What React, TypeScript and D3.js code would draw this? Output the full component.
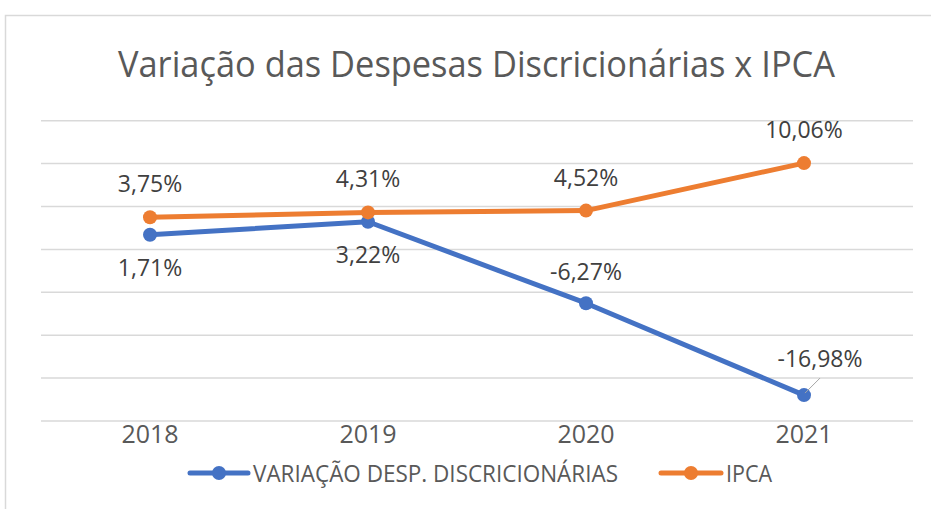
import { useMemo } from 'react';
import * as d3 from 'd3';

const years = ['2018', '2019', '2020', '2021'];
const despesas = [1.71, 3.22, -6.27, -16.98];
const ipca = [3.75, 4.31, 4.52, 10.06];
const yTicks = [-20, -15, -10, -5, 0, 5, 10, 15];

const seriesNames = ['VARIAÇÃO DESP. DISCRICIONÁRIAS', 'IPCA'];
const colors = ['#4472C4', '#ED7D31'];

const W = 931;
const H = 509;
const FONT = '"Open Sans", "Noto Sans", sans-serif';

const fmt = (v: number) => v.toFixed(2).replace('.', ',') + '%';

export default function App() {
  const x = useMemo(() => d3.scaleBand<string>().domain(years).range([41, 913]), []);
  const y = useMemo(() => d3.scaleLinear().domain([-20, 15]).range([421, 120.7]), []);
  const cx = (yr: string) => (x(yr) ?? 0) + x.bandwidth() / 2;

  const line = d3
    .line<number>()
    .x((_, i) => cx(years[i]))
    .y(d => y(d));

  const series = [despesas, ipca];

  // label placement: -1 above, +1 below (per series, per point)
  const placeBlue = [1, 1, -1, -1];
  const placeOrange = [-1, -1, -1, -1];

  return (
    <svg width={W} height={H} style={{ position: 'absolute', left: 0, top: 0, background: '#fff' }}>
      <rect x={5.5} y={15.5} width={W} height={H} fill="#fff" stroke="#d9d9d9" strokeWidth={1.5} />

      <text
        x={476.5}
        y={77}
        textAnchor="middle"
        fontFamily={FONT}
        fontSize={37}
        fill="#595959"
        textLength={717}
        lengthAdjust="spacingAndGlyphs"
      >
        Variação das Despesas Discricionárias x IPCA
      </text>

      {yTicks.map(t => (
        <line key={t} x1={41} x2={913} y1={y(t)} y2={y(t)} stroke="#d9d9d9" strokeWidth={1.5} />
      ))}

      {years.map(yr => (
        <text
          key={yr}
          x={cx(yr)}
          y={443}
          textAnchor="middle"
          fontFamily={FONT}
          fontSize={25}
          fill="#595959"
        >
          {yr}
        </text>
      ))}

      {series.map((s, si) => (
        <g key={si}>
          <path d={line(s) ?? ''} fill="none" stroke={colors[si]} strokeWidth={5} strokeLinejoin="round" />
          {s.map((v, i) => (
            <circle key={i} cx={cx(years[i])} cy={y(v)} r={7} fill={colors[si]} />
          ))}
        </g>
      ))}

      {/* leader line for the last blue label */}
      <line
        x1={cx(years[3]) + 1}
        y1={y(despesas[3]) - 2}
        x2={cx(years[3]) + 16}
        y2={y(despesas[3]) - 17}
        stroke="#a6a6a6"
        strokeWidth={1}
      />

      {despesas.map((v, i) => {
        const last = i === 3;
        return (
          <text
            key={'b' + i}
            x={cx(years[i]) + (last ? 16 : 0)}
            y={y(v) + (last ? -37 : placeBlue[i] * 32)}
            textAnchor="middle"
            dominantBaseline="central"
            fontFamily={FONT}
            fontSize={23}
            fill="#404040"
          >
            {fmt(v)}
          </text>
        );
      })}
      {ipca.map((v, i) => (
        <text
          key={'o' + i}
          x={cx(years[i])}
          y={y(v) + placeOrange[i] * 34}
          textAnchor="middle"
          dominantBaseline="central"
          fontFamily={FONT}
          fontSize={23}
          fill="#404040"
        >
          {fmt(v)}
        </text>
      ))}

      {/* legend */}
      {[
        { x0: 190, x1: 248, tx: 253, tl: 365 },
        { x0: 661, x1: 721, tx: 726, tl: 46 },
      ].map((l, i) => (
        <g key={i}>
          <line x1={l.x0} x2={l.x1} y1={473} y2={473} stroke={colors[i]} strokeWidth={5} strokeLinecap="round" />
          <circle cx={(l.x0 + l.x1) / 2} cy={473} r={7} fill={colors[i]} />
          <text
            x={l.tx}
            y={473}
            dominantBaseline="central"
            fontFamily={FONT}
            fontSize={23}
            fill="#595959"
            textLength={l.tl}
            lengthAdjust="spacingAndGlyphs"
          >
            {seriesNames[i]}
          </text>
        </g>
      ))}
    </svg>
  );
}
